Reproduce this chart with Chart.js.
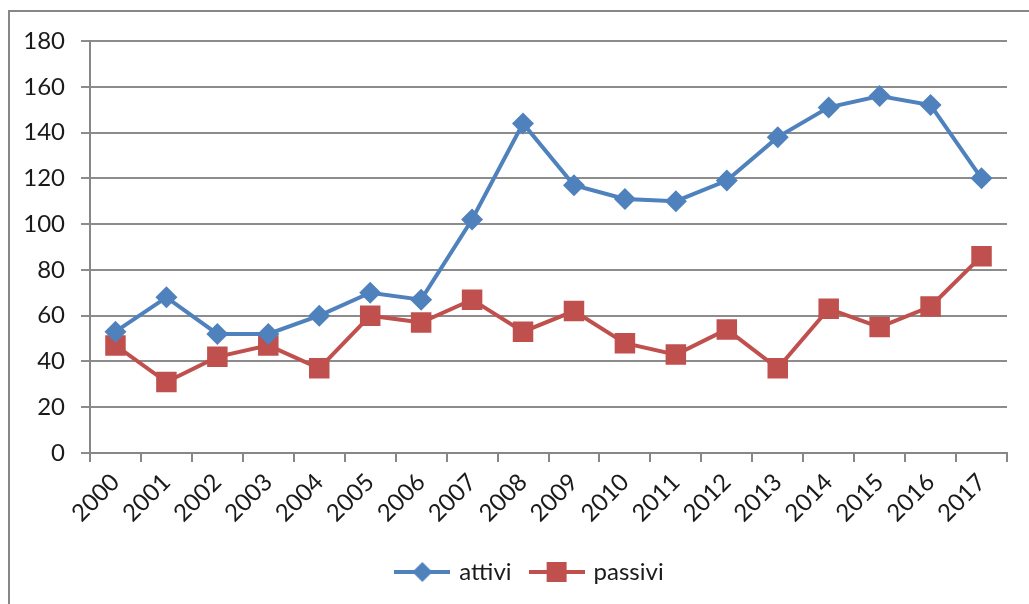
<!DOCTYPE html>
<html>
<head>
<meta charset="utf-8">
<script src="https://cdn.jsdelivr.net/npm/chart.js@4"></script>
<style>
    html, body { margin: 0; padding: 0; background: #fff; overflow: hidden; }
    #frame {
        position: absolute; left: 8px; top: 10px; width: 1100px; height: 700px;
        border: 2px solid #878787; box-sizing: border-box;
    }
    #wrap { position: absolute; left: 0; top: 0; width: 1029px; height: 604px; }
</style>
</head>
<body>
<div id="frame"></div>
<div id="wrap"><canvas id="chart" width="1029" height="604"></canvas></div>
<script>
const years = ['2000', '2001', '2002', '2003', '2004', '2005', '2006', '2007', '2008',
    '2009', '2010', '2011', '2012', '2013', '2014', '2015', '2016', '2017'];
const attivi = [53, 68, 52, 52, 60, 70, 67, 102, 144, 117, 111, 110, 119, 138, 151, 156, 152, 120];
const passivi = [47, 31, 42, 47, 37, 60, 57, 67, 53, 62, 48, 43, 54, 37, 63, 55, 64, 86];
const yTicks = [0, 20, 40, 60, 80, 100, 120, 140, 160, 180];

const BLUE = '#4F81BD';
const RED = '#C0504D';
const FONT = 'Lato, "Open Sans", sans-serif';

// legend swatch: short line with the marker on it
function legendSwatch(color, style) {
    const c = document.createElement('canvas');
    c.width = 56;
    c.height = 24;
    const ctx = c.getContext('2d');
    ctx.strokeStyle = color;
    ctx.lineWidth = 4;
    ctx.beginPath();
    ctx.moveTo(0, 12);
    ctx.lineTo(56, 12);
    ctx.stroke();
    ctx.fillStyle = color;
    ctx.beginPath();
    if (style === 'diamond') {
        ctx.moveTo(28, 2); ctx.lineTo(38, 12); ctx.lineTo(28, 22); ctx.lineTo(18, 12);
        ctx.closePath();
    } else {
        ctx.rect(18, 2, 20, 20);
    }
    ctx.fill();
    return c;
}

const swatches = [legendSwatch(BLUE, 'diamond'), legendSwatch(RED, 'square')];

// legend in the original sits a bit right of the canvas centre
const shiftLegend = {
    id: 'shiftLegend',
    afterLayout(chart) {
        if (chart.legend) chart.legend.left += 34;
    }
};

new Chart(document.getElementById('chart'), {
    type: 'line',
    data: {
        labels: years,
        datasets: [
            {
                label: 'attivi',
                data: attivi,
                borderColor: BLUE,
                backgroundColor: BLUE,
                borderWidth: 4,
                pointStyle: 'rectRot',
                pointRadius: 11,
                pointBorderWidth: 0,
                tension: 0
            },
            {
                label: 'passivi',
                data: passivi,
                borderColor: RED,
                backgroundColor: RED,
                borderWidth: 4,
                pointStyle: 'rect',
                pointRadius: 14.5,
                pointBorderWidth: 0,
                tension: 0
            }
        ]
    },
    plugins: [shiftLegend],
    options: {
        responsive: false,
        animation: false,
        layout: { padding: { left: 20, right: 22, top: 41, bottom: 10 } },
        plugins: {
            tooltip: { enabled: false },
            legend: {
                position: 'bottom',
                labels: {
                    usePointStyle: true,
                    pointStyleWidth: 50,
                    padding: 20,
                    color: '#1a1a1a',
                    font: { family: FONT, size: 24 },
                    generateLabels(chart) {
                        const items = Chart.defaults.plugins.legend.labels.generateLabels(chart);
                        items.forEach((it, i) => { it.pointStyle = swatches[i]; });
                        return items;
                    }
                }
            }
        },
        scales: {
            x: {
                offset: true,
                grid: { offset: true, drawOnChartArea: false, tickLength: 9, color: '#878787', lineWidth: 2 },
                border: { color: '#878787', width: 2 },
                ticks: {
                    autoSkip: false,
                    minRotation: 45,
                    maxRotation: 45,
                    padding: 6,
                    color: '#1a1a1a',
                    font: { family: FONT, size: 24 }
                },
                afterFit(scale) { scale.height = 87; }
            },
            y: {
                min: 0,
                max: 180,
                afterBuildTicks(scale) { scale.ticks = yTicks.map(v => ({ value: v })); },
                grid: { color: '#8c8c8c', lineWidth: 2, tickLength: 9 },
                border: { color: '#878787', width: 2 },
                ticks: {
                    padding: 16,
                    color: '#1a1a1a',
                    font: { family: FONT, size: 24 }
                },
                afterFit(scale) { scale.width = 70; }
            }
        }
    }
});
</script>
</body>
</html>
